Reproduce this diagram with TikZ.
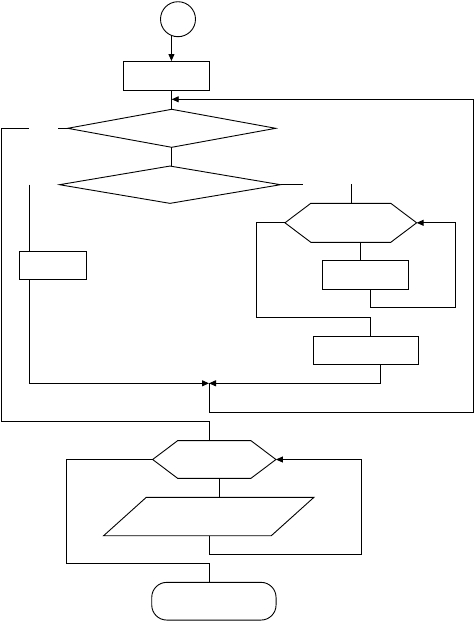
\documentclass[tikz,border=0pt]{standalone}
\usetikzlibrary{arrows.meta,shapes.geometric,shapes.symbols}

\begin{document}
\begin{tikzpicture}[
  x=1pt,
  y=-1pt,
  flow/.style={draw=black,line width=0.9pt},
  shapebase/.style={flow,inner sep=0pt,outer sep=0pt},
  block/.style={shapebase,rectangle},
  decision/.style={shapebase,diamond},
  loophead/.style={shapebase,signal,signal from=nowhere,signal to=west and east,signal pointer angle=74},
  iobox/.style={shapebase,trapezium,trapezium left angle=42,trapezium right angle=138,inner xsep=62.5pt,inner ysep=19.2pt},
  terminal/.style={shapebase,rectangle,rounded corners=15pt},
  arr/.style={flow,-{Triangle[length=7pt,width=6pt]}}
]
  \useasboundingbox (0,0) rectangle (474,622);

  % Blocks of the chart.
  \node[shapebase,circle,minimum size=35pt] (start) at (178,19.2) {};
  \node[block,minimum width=86pt,minimum height=29pt] (init) at (166.3,75.5) {};
  \node[decision,minimum width=208pt,minimum height=38pt] (dec1) at (171.7,128.3) {};
  \node[decision,minimum width=221pt,minimum height=37.3pt] (dec2) at (170,184.7) {};
  \node[block,minimum width=67.4pt,minimum height=28.3pt] (boxL) at (53,265.2) {};
  \node[loophead,minimum width=131.7pt,minimum height=39pt] (hex1) at (350.8,222.8) {};
  \node[block,minimum width=86pt,minimum height=29pt] (boxA) at (365.3,274.5) {};
  \node[block,minimum width=105pt,minimum height=28.3pt] (boxB) at (365.8,350.2) {};
  \node[loophead,minimum width=123.3pt,minimum height=37.7pt] (hex2) at (214.3,459.5) {};
  \node[iobox] (para) at (208.8,516.5) {};
  \node[terminal,minimum width=124.3pt,minimum height=37.7pt] (term) at (213.9,601.2) {};

  % Junction points.
  \coordinate (rejoin) at (171.7,99.3);
  \coordinate (merge) at (209,383.3);
  \coordinate (noout) at (28.7,128.3);
  \coordinate (exitdown) at (209.3,421);
  \coordinate (yesleft) at (29.3,184.7);
  \coordinate (innerA) at (455.7,307.3);
  \coordinate (innerB) at (361.7,554.3);
  \coordinate (endjoin) at (209.3,563.3);

  % Top part.
  \draw[arr] (start.-112) -- (start.-112 |- init.north);
  \draw[flow] (dec1.north |- init.south) -- (dec1.north);
  \draw[flow] (dec1.south) -- (dec1.south |- dec2.north);

  % Left branch.
  \draw[flow] (dec2.west -| yesleft) -- (yesleft |- boxL.north);
  \draw[arr] (yesleft |- boxL.south) |- (merge);

  % Right branch with inner loop.
  \draw[flow] (dec2.east) -- ++(22,0);
  \draw[flow] ([xshift=0.9pt]hex1.north) -- ++(0,-19.3);
  \draw[flow] ([xshift=9.9pt]hex1.south) -- ([xshift=9.9pt]hex1.south |- boxA.north);
  \draw[arr] ([xshift=4.7pt]boxA.south) |- (innerA) |- (hex1.east);
  \draw[flow] (hex1.west) -- ++(-28.3,0) -- ++(0,94.4) -| ([xshift=4.2pt]boxB.north);
  \draw[arr] ([xshift=14.2pt]boxB.south) |- (merge);

  % Outer loop back to the first test.
  \draw[arr] (merge) |- (473,412.3) |- (rejoin);
  \draw[flow] (dec1.west) -- ++(-10,0);
  \draw[flow] (noout) -- (1,128.3) |- (exitdown) -- (exitdown |- hex2.north);

  % Bottom loop.
  \draw[flow] ([xshift=4.7pt]hex2.south) -- ([xshift=4.7pt]hex2.south |- para.north);
  \draw[arr] ([xshift=0.5pt]para.south) |- (innerB) |- (hex2.east);
  \draw[flow] (hex2.west) -- ++(-86,0) |- (endjoin) -- (endjoin |- term.north);
\end{tikzpicture}
\end{document}
